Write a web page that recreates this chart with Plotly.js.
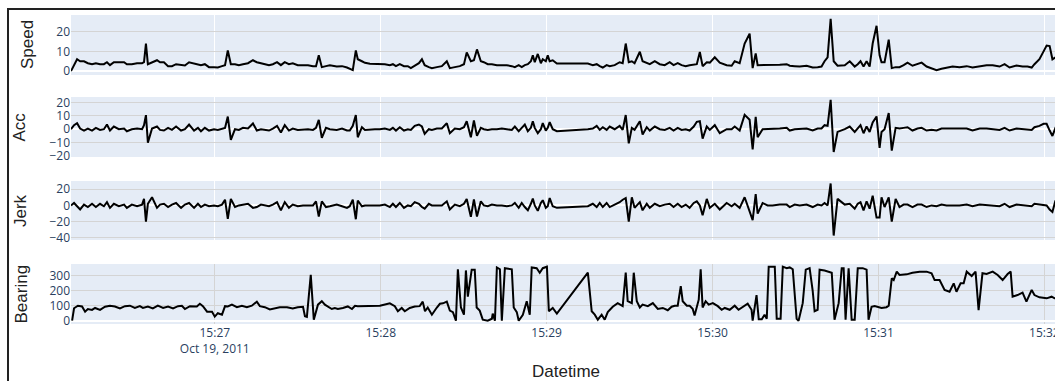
<!DOCTYPE html>
<html>
<head>
<meta charset="utf-8">
<script src="https://cdn.plot.ly/plotly-3.0.1.min.js"></script>
<style>
html,body{margin:0;padding:0;overflow:hidden;background:#fff;width:1055px;height:381px;}
#chart{position:absolute;left:0;top:0;}
.frame{position:absolute;background:#222;z-index:5;}
</style>
</head>
<body>
<div id="chart"></div>
<div class="frame" style="left:7px;top:8px;width:2px;height:373px;"></div>
<div class="frame" style="left:7px;top:8px;width:1048px;height:2px;"></div>
<script>
// seconds after 15:26:00 on 2011-10-19 (shared by Speed, Acc, Jerk)
const secs = [8.0,9.1,10.2,11.3,12.7,14.1,15.6,17.0,18.5,19.9,21.0,22.1,23.5,25.3,27.2,28.2,30.0,31.9,33.7,34.4,35.1,35.8,37.3,39.1,40.2,41.6,43.1,44.5,46.0,47.8,49.2,50.7,52.5,53.9,55.0,56.4,57.9,59.7,61.1,62.6,63.7,64.7,65.8,67.3,68.7,70.2,72.0,73.8,75.2,76.7,78.1,79.6,81.0,82.5,83.9,85.3,86.8,88.2,90.0,91.9,93.7,95.5,96.6,97.6,98.7,100.2,101.6,104.1,106.0,107.8,108.8,109.9,111.0,111.7,113.2,114.3,116.1,117.9,119.7,121.5,123.3,124.4,125.5,126.9,128.4,129.8,130.9,132.3,133.8,134.9,135.9,137.4,138.5,140.3,142.1,143.9,145.0,146.8,148.6,150.1,151.1,152.6,153.7,154.8,156.2,157.3,158.7,160.2,162.0,163.8,165.6,167.4,168.5,169.9,171.0,172.1,173.2,174.3,175.0,175.7,176.8,177.9,178.6,179.7,180.4,181.1,182.2,183.7,194.9,196.7,198.1,199.2,200.3,201.7,202.8,204.6,206.4,207.5,208.6,209.7,210.8,211.8,213.7,214.7,216.2,217.3,219.1,220.9,222.7,224.5,225.9,227.4,228.8,230.3,231.7,233.2,234.3,235.4,236.4,237.9,239.0,240.8,242.6,245.1,246.9,248.0,249.8,251.6,253.4,254.5,255.6,256.3,258.1,259.9,261.7,264.3,266.8,267.9,269.7,271.5,274.0,276.2,278.0,279.4,280.5,281.6,282.7,283.8,285.2,287.8,289.6,291.4,292.5,293.5,294.6,295.7,296.8,297.9,299.3,300.4,301.1,302.2,303.7,304.8,306.2,307.6,309.1,310.5,312.3,314.1,315.6,317.4,319.2,321.0,322.8,324.6,326.8,329.3,331.9,334.0,336.6,339.1,341.3,343.8,345.6,347.4,349.9,352.1,353.9,355.4,356.4,358.2,359.7,360.8,361.9,362.9,364.0,365.5];

const speed = [0,3,6,5,5,4,3.5,4,3.5,3.5,4.5,3,4.5,4.5,4.5,3.5,3.5,4,4,4.5,14,3.5,4.5,5.5,4.5,4.5,2.5,2.5,3.5,3,2.8,4.5,4,3.5,3,3.5,2,2,1.8,2.5,3,10.5,3.5,3.5,3,3.5,4,5.5,4.5,4,3.5,3,3.5,4.5,3,4.5,3.5,4,3,3,3,2.5,2.5,8,2,2.5,3,2.3,2.5,1.8,1,0.5,10.5,6,5,4.2,3.7,3.7,3.5,3.5,3,3.5,2.5,3.5,2.5,2.5,1.5,2.5,4,6,3,2,1.5,2,2.5,5,1.5,2,2.5,3.5,9.5,5,5.5,11,5,4.5,3.5,3.5,3,3,3,2.5,2,3,2,3,3.5,5,8,4.5,8.7,4,6,5,8,5,5.5,3.8,3.8,3,3.5,2.5,1.8,3,2.5,3,4.5,4,14,4.5,5,4,9.8,5,4,3.5,5,3.5,3,4.5,3,4,3,2.5,3,3.5,3.5,9.7,2.5,4.5,4.3,7,4.3,3,2.7,5,4,14,19,1.5,9,3,3,3,3,3.2,3.5,2.7,2.5,2.3,2.7,1.8,2,2.3,5,7,26.5,5,2.7,3,5,2.3,3.5,5,2.3,5,2.3,14,23,8,4.5,4.5,16,1.5,2,2,3,4.3,2.7,3.5,4.3,2.3,1.5,0.5,1.2,1.8,2.3,2,2.5,1.8,2.3,3,3,2.3,3.5,1.8,2.8,2.3,2.3,1.8,3.5,6,10,13,12.7,6,7,8];

const acc = [0,3,4.5,0.5,-1,0.5,-1,1,-0.5,0,3.5,-1,2,0,0.5,-1.5,0,0.5,0,3,10.5,-10,0.5,2,-0.5,-1,1,-0.5,2,-1,0,3.5,-1,1,-1.5,1,-1,0,-0.5,0.5,1,9.4,-8,0,-0.5,1,0.5,4.3,-1,0,-0.5,-1,0.5,2.5,-2.5,3,-1,0.5,-0.5,0,0,-0.5,1,7,-6.5,1,0,-0.5,0.5,-1,-1,2.5,10.6,-6,1.5,-0.5,0,0,0,0.5,-0.5,1,-1,1.5,-1,0,-0.5,2.5,3.5,2,-3.5,0,-0.5,0.5,0.5,4.5,-3,0.5,0,1.5,6,-6,6.5,-5,1,0,-0.5,0,0,0.5,0,-0.5,2,-1.5,1,3.5,-1.5,1,6,1,-3,0,4.5,-1,1,5.3,0,-1.5,0,0.5,2.5,-0.5,1.5,-0.5,2,0,2.5,-0.5,10.6,-10.5,1,-0.5,6,-4,1.5,-1,2,0,-0.5,1,-1,1,-0.5,0,-1,2,5.5,6,-7,2,-0.5,3,-3,0,0,2,-1,10.7,7,-15,9.3,-6,0,0,0,0.5,1,-1,0,0,0.5,-1,0.5,0.5,3,2.5,21.9,-17,-2,0,2,-2,1,3,-3,2,-2,5,9.5,-14,-2,0,12,-16,1,0.5,1,1.5,-1,0.5,1,-1,-0.5,-1,0.5,0.5,0,0,0.5,-1,0.5,0.5,0,-0.5,1,-1,0.5,0,0,-0.5,1.5,2.5,4,4,-1,-5,1,1];

const jerk = [0,3,-1,-5,1,-2,2,-2,2,-1,4,-3,2,-1,1,-3,1,-1,1,8,-20,2,10,-3,1,2,-2,1,3,-3,1,3,-3,2,-2,1,-1,0,-1,1,7,-16.5,8,-2,0,1,2,-3,-2,1,0,-1,1,4,-6,4,-3,1,-1,0,0,0,5,-13.7,5,-2,-1,1,-1,-3,-1,7,-17,6,-1,0,0,0,0,1,-2,2,-2,3,-3,0,-1,4,2,-2,-4,2,0,0,0,5,-5,1,-1,2,8,-14,7.5,-13.7,5,0,-1,1,0,0,-1,0,3,-3,3,-2,-6,2,8.4,0,-6.7,3,6.4,-3,-1,9,-1,-3,-1,2,-2,3,-2,3,-2,1,4,7,9,-20,10,-3,4,-6,2,-3,2,-1,1,2,-2,2,-2,1,-3,3,5,0,-12,8,-3,2,-5,3,-1,2,-3,10,-6,-18,14,-10,3,0,0,1,1,-2,1,0,1,-2,1,0,3,0,27,-37,8,1,2,-4,2,4,-6,5,-4,12,-15,-15,10,-2,10,-20,8,-2,1,1,-2,1,1,-2,0,-1,1,0,0,0,1,-1,1,0,0,-1,2,-2,1,0,0,-1,2,1,1,0,-5,-8,6,0];

// bearing has its own sample times (seconds after 15:26:00)
const bsecs = [8.4,9.1,10.5,12.0,13.1,14.1,15.6,16.7,18.5,20.3,22.1,23.9,25.7,27.5,29.3,31.1,32.9,34.0,35.8,37.6,39.4,41.3,43.1,44.9,46.7,48.1,49.2,51.0,53.5,54.6,55.7,57.2,59.0,60.0,61.1,62.6,63.7,64.7,66.2,68.0,69.8,71.6,73.4,75.2,76.3,78.1,79.9,81.7,83.5,86.1,88.2,90.0,91.9,92.6,93.3,94.7,95.8,97.3,98.7,99.8,100.9,102.3,103.4,104.5,106.3,108.1,109.6,110.7,111.7,115.0,119.7,123.3,125.1,126.2,127.6,128.7,130.5,132.3,134.1,135.2,136.0,137.0,138.5,140.3,141.4,142.5,143.9,145.0,146.1,147.2,147.9,149.0,150.1,150.8,151.5,152.9,154.0,154.7,155.8,156.9,158.7,160.2,160.5,161.3,162.0,163.1,163.8,164.9,167.4,168.1,169.2,169.9,171.4,172.8,173.9,174.6,176.4,177.5,178.6,180.1,180.8,182.2,183.7,194.9,196.3,197.4,198.5,199.9,201.0,202.1,203.9,205.7,207.5,208.6,209.3,210.8,211.5,212.6,213.7,214.7,216.6,218.4,220.2,222.0,223.8,225.2,226.3,227.4,228.5,229.2,230.7,231.7,232.8,233.5,235.0,235.7,236.4,237.5,238.6,240.1,241.9,243.3,244.4,246.2,248.0,249.4,250.9,252.7,254.1,254.5,255.9,256.7,257.8,258.8,259.6,260.3,262.5,263.2,264.6,265.4,266.8,267.9,269.0,270.4,271.1,272.6,273.7,275.1,276.2,276.9,278.0,278.7,280.5,281.6,283.1,284.1,285.6,286.7,287.4,288.1,289.2,290.3,291.4,292.5,294.3,295.7,296.4,297.5,298.6,301.1,302.9,303.7,304.8,305.5,306.6,307.6,310.2,312.3,314.9,317.4,319.2,320.3,322.1,323.9,325.7,327.2,328.2,329.7,330.8,331.9,333.7,335.1,336.2,337.6,339.1,341.3,343.1,344.9,346.7,347.8,348.5,350.3,352.1,353.5,355.4,356.4,358.2,360.8,362.6,363.7,365.5];

const bearing = [0,83,100,95,60,78,72,85,72,93,100,95,82,97,100,85,97,85,95,82,100,85,95,82,97,100,78,97,95,113,97,60,60,27,50,40,97,95,107,90,100,90,100,127,97,90,75,85,90,90,82,90,93,30,25,305,7,107,130,107,95,78,85,78,85,95,78,100,97,97,100,116,97,63,85,63,85,95,97,127,63,88,40,88,113,116,127,67,57,0,343,88,40,335,160,340,340,88,67,7,0,13,47,0,355,343,0,350,343,88,57,0,40,130,40,355,350,320,350,360,63,85,47,320,63,40,7,40,7,57,93,117,97,320,130,117,320,130,88,107,97,117,78,85,70,93,100,100,231,130,100,100,80,35,140,343,88,130,107,117,97,73,85,73,100,73,90,113,73,0,171,9,9,40,13,360,360,13,13,360,350,355,343,13,0,117,340,350,200,63,73,340,335,330,320,7,117,350,350,7,350,7,7,350,350,340,7,93,98,85,90,100,283,271,327,305,309,320,327,327,316,271,271,205,193,249,193,249,249,327,298,327,71,316,311,327,305,271,311,327,160,171,187,127,205,171,156,149,160,149,150];

const panelTitles = ['Speed', 'Acc', 'Jerk', 'Bearing'];

function stamp(s){
  const m = 26 + Math.floor(s/60);
  const sec = s - 60*Math.floor(s/60);
  return '2011-10-19 15:' + String(m).padStart(2,'0') + ':' + (sec < 10 ? '0' : '') + sec.toFixed(1);
}
const t = secs.map(stamp);
const tb = bsecs.map(stamp);

const line = {color:'#000', width:2};
const traces = [
  {x:t, y:speed, xaxis:'x', yaxis:'y', type:'scatter', mode:'lines', line:line},
  {x:t, y:acc, xaxis:'x2', yaxis:'y2', type:'scatter', mode:'lines', line:line},
  {x:t, y:jerk, xaxis:'x3', yaxis:'y3', type:'scatter', mode:'lines', line:line},
  {x:tb, y:bearing, xaxis:'x4', yaxis:'y4', type:'scatter', mode:'lines', line:line}
];

const xr = ['2011-10-19 15:26:08', '2011-10-19 15:32:06'];
const tickFont = {family:'"Open Sans", verdana, arial, sans-serif', size:12, color:'#2a3f5f'};
const titleFont = {family:'Arial, "Liberation Sans", sans-serif', size:17, color:'#222'};
function xa(anchor, show, grid){
  return {anchor:anchor, domain:[0,1], range:xr, type:'date', showticklabels:show,
    tick0:'2011-10-19 15:27:00', dtick:60000, gridcolor:grid, zeroline:false,
    tickfont:tickFont, ticks:'', showline:false};
}
function ya(anchor, dom, range, dtick){
  return {anchor:anchor, domain:dom, range:range, dtick:dtick, gridcolor:'#d4d4d4',
    zeroline:true, zerolinecolor:'#ffffff', zerolinewidth:2, tickfont:tickFont, ticks:''};
}
const doms = [[0.8058,1],[0.5405,0.7346],[0.2718,0.4628],[0,0.1942]];
const titleX = [27, 19.5, 20.5, 21.5];
const annotations = panelTitles.map((txt, i) => ({
  text: txt, xref:'paper', yref:'paper', x:0, y:(doms[i][0]+doms[i][1])/2,
  xanchor:'center', yanchor:'middle', xshift: titleX[i] - 71, textangle:-90,
  showarrow:false, font:titleFont
}));
const layout = {
  width:1071, height:381,
  margin:{l:71, r:10, t:15, b:57},
  paper_bgcolor:'#ffffff', plot_bgcolor:'#E5ECF6',
  showlegend:false,
  xaxis: xa('y', false, '#ffffff'),
  xaxis2: xa('y2', false, '#ffffff'),
  xaxis3: xa('y3', false, '#ffffff'),
  xaxis4: Object.assign(xa('y4', true, '#d4d4d4'), {title:{text:'Datetime', font:titleFont}}),
  yaxis: ya('x', doms[0], [-2,28.5], 10),
  yaxis2: ya('x2', doms[1], [-20.7,24], 10),
  yaxis3: ya('x3', doms[2], [-42.5,30], 20),
  yaxis4: ya('x4', doms[3], [-22,378], 100),
  annotations: annotations
};
Plotly.newPlot('chart', traces, layout, {displayModeBar:false, staticPlot:true});
</script>
</body>
</html>
